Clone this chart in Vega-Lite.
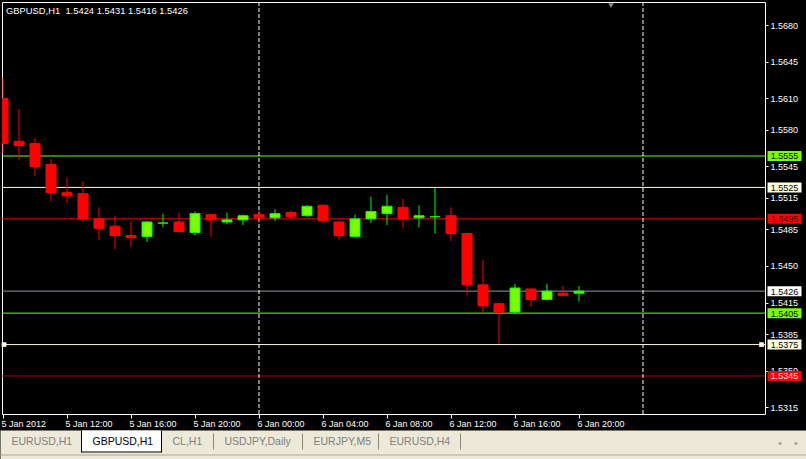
{
  "$schema": "https://vega.github.io/schema/vega-lite/v6.json",
  "background": "#000000",
  "padding": {"left": 0, "top": 1, "right": 0, "bottom": 0},
  "spacing": 16.5,
  "bounds": "flush",
  "resolve": {"scale": {"x": "independent", "y": "independent"}},
  "config": {"view": {"stroke": null}, "font": "Liberation Sans", "axis": {"labelOverlap": false}, "scale": {"continuousPadding": 0}},
  "datasets": {
    "candles": [
      {"t": "2012-01-05T08:00:00Z", "open": 1.5610, "high": 1.5630, "low": 1.5557, "close": 1.5567},
      {"t": "2012-01-05T09:00:00Z", "open": 1.5569, "high": 1.5600, "low": 1.5551, "close": 1.5565},
      {"t": "2012-01-05T10:00:00Z", "open": 1.5567, "high": 1.5572, "low": 1.5536, "close": 1.5545},
      {"t": "2012-01-05T11:00:00Z", "open": 1.5547, "high": 1.5552, "low": 1.5512, "close": 1.5520},
      {"t": "2012-01-05T12:00:00Z", "open": 1.5520, "high": 1.5534, "low": 1.5510, "close": 1.5517},
      {"t": "2012-01-05T13:00:00Z", "open": 1.5519, "high": 1.5531, "low": 1.5492, "close": 1.5495},
      {"t": "2012-01-05T14:00:00Z", "open": 1.5495, "high": 1.5506, "low": 1.5475, "close": 1.5486},
      {"t": "2012-01-05T15:00:00Z", "open": 1.5488, "high": 1.5498, "low": 1.5466, "close": 1.5479},
      {"t": "2012-01-05T16:00:00Z", "open": 1.5479, "high": 1.5493, "low": 1.5468, "close": 1.5477},
      {"t": "2012-01-05T17:00:00Z", "open": 1.5478, "high": 1.5493, "low": 1.5473, "close": 1.5492},
      {"t": "2012-01-05T18:00:00Z", "open": 1.5491, "high": 1.5500, "low": 1.5487, "close": 1.5491},
      {"t": "2012-01-05T19:00:00Z", "open": 1.5492, "high": 1.5501, "low": 1.5482, "close": 1.5483},
      {"t": "2012-01-05T20:00:00Z", "open": 1.5482, "high": 1.5502, "low": 1.5479, "close": 1.5500},
      {"t": "2012-01-05T21:00:00Z", "open": 1.5499, "high": 1.5500, "low": 1.5478, "close": 1.5494},
      {"t": "2012-01-05T22:00:00Z", "open": 1.5492, "high": 1.5501, "low": 1.5490, "close": 1.5494},
      {"t": "2012-01-05T23:00:00Z", "open": 1.5494, "high": 1.5499, "low": 1.5489, "close": 1.5498},
      {"t": "2012-01-06T00:00:00Z", "open": 1.5499, "high": 1.5504, "low": 1.5493, "close": 1.5496},
      {"t": "2012-01-06T01:00:00Z", "open": 1.5496, "high": 1.5504, "low": 1.5493, "close": 1.5500},
      {"t": "2012-01-06T02:00:00Z", "open": 1.5501, "high": 1.5503, "low": 1.5495, "close": 1.5497},
      {"t": "2012-01-06T03:00:00Z", "open": 1.5498, "high": 1.5508, "low": 1.5497, "close": 1.5507},
      {"t": "2012-01-06T04:00:00Z", "open": 1.5508, "high": 1.5508, "low": 1.5491, "close": 1.5493},
      {"t": "2012-01-06T05:00:00Z", "open": 1.5492, "high": 1.5493, "low": 1.5475, "close": 1.5479},
      {"t": "2012-01-06T06:00:00Z", "open": 1.5478, "high": 1.5499, "low": 1.5478, "close": 1.5495},
      {"t": "2012-01-06T07:00:00Z", "open": 1.5495, "high": 1.5516, "low": 1.5491, "close": 1.5502},
      {"t": "2012-01-06T08:00:00Z", "open": 1.5500, "high": 1.5518, "low": 1.5489, "close": 1.5507},
      {"t": "2012-01-06T09:00:00Z", "open": 1.5506, "high": 1.5514, "low": 1.5486, "close": 1.5495},
      {"t": "2012-01-06T10:00:00Z", "open": 1.5496, "high": 1.5508, "low": 1.5487, "close": 1.5498},
      {"t": "2012-01-06T11:00:00Z", "open": 1.5497, "high": 1.5525, "low": 1.5481, "close": 1.5497},
      {"t": "2012-01-06T12:00:00Z", "open": 1.5498, "high": 1.5506, "low": 1.5474, "close": 1.5481},
      {"t": "2012-01-06T13:00:00Z", "open": 1.5481, "high": 1.5482, "low": 1.5422, "close": 1.5432},
      {"t": "2012-01-06T14:00:00Z", "open": 1.5432, "high": 1.5456, "low": 1.5406, "close": 1.5412},
      {"t": "2012-01-06T15:00:00Z", "open": 1.5414, "high": 1.5414, "low": 1.5376, "close": 1.5406},
      {"t": "2012-01-06T16:00:00Z", "open": 1.5406, "high": 1.5433, "low": 1.5404, "close": 1.5429},
      {"t": "2012-01-06T17:00:00Z", "open": 1.5428, "high": 1.5429, "low": 1.5411, "close": 1.5418},
      {"t": "2012-01-06T18:00:00Z", "open": 1.5418, "high": 1.5433, "low": 1.5417, "close": 1.5426},
      {"t": "2012-01-06T19:00:00Z", "open": 1.5424, "high": 1.5431, "low": 1.5421, "close": 1.5422},
      {"t": "2012-01-06T20:00:00Z", "open": 1.5424, "high": 1.5431, "low": 1.5416, "close": 1.5426}
    ],
    "levels": [
      {"price": 1.5555, "kind": "lime"},
      {"price": 1.5525, "kind": "cream"},
      {"price": 1.5495, "kind": "red"},
      {"price": 1.5426, "kind": "bid"},
      {"price": 1.5405, "kind": "lime"},
      {"price": 1.5375, "kind": "cream"},
      {"price": 1.5345, "kind": "maroon"}
    ],
    "daySeparators": [
      {"t": "2012-01-06T00:00:00Z"},
      {"t": "2012-01-07T00:00:00Z"}
    ],
    "tabs": [
      {"name": "EURUSD,H1", "x0": 0, "x1": 81, "active": false},
      {"name": "GBPUSD,H1", "x0": 81, "x1": 161, "active": true},
      {"name": "CL,H1", "x0": 161, "x1": 213, "active": false},
      {"name": "USDJPY,Daily", "x0": 213, "x1": 302, "active": false},
      {"name": "EURJPY,M5", "x0": 302, "x1": 378, "active": false},
      {"name": "EURUSD,H4", "x0": 378, "x1": 460, "active": false}
    ]
  },
  "vconcat": [
    {
      "width": 763,
      "height": 412,
      "view": {"stroke": "#FFFFFF", "strokeWidth": 1, "fill": "#000000"},
      "layer": [
        {
          "data": {"name": "levels"},
          "mark": {"type": "rule", "strokeWidth": 1},
          "encoding": {
            "y": {
              "field": "price", "type": "quantitative",
              "scale": {"domain": [1.530872, 1.5702], "nice": false, "zero": false, "padding": 0},
              "axis": {
                "orient": "right", "title": null, "grid": false, "domain": false,
                "values": [1.5680, 1.5645, 1.5610, 1.5580, 1.5545, 1.5515, 1.5485, 1.5450, 1.5415, 1.5385, 1.5350, 1.5315],
                "tickCount": 40,
                "format": ".4f", "tickSize": 3, "tickColor": "#FFFFFF", "labelColor": "#FFFFFF",
                "labelFont": "Liberation Sans", "labelFontSize": 9, "labelPadding": 2,
                "labelOverlap": false, "labelFlush": false, "labelBound": false
              }
            },
            "stroke": {
              "field": "kind", "type": "nominal", "legend": null,
              "scale": {"domain": ["lime", "cream", "red", "bid", "maroon"], "range": ["#7CFC00", "#FFF8DC", "#FF0000", "#8E96A0", "#B40000"]}
            }
          }
        },
        {
          "data": {"name": "daySeparators"},
          "mark": {"type": "rule", "stroke": "#FFFFFF", "strokeWidth": 1, "strokeDash": [4, 2]},
          "encoding": {
            "x": {
              "field": "t", "type": "temporal",
              "scale": {"type": "utc", "domain": [
                {"year": 2012, "month": 1, "date": 5, "hours": 7, "minutes": 56, "seconds": 15, "utc": true},
                {"year": 2012, "month": 1, "date": 7, "hours": 7, "minutes": 37, "seconds": 30, "utc": true}
              ], "nice": false, "padding": 0},
              "axis": {
                "orient": "bottom", "title": null, "grid": false, "domain": false,
                "values": [
                  {"year": 2012, "month": 1, "date": 5, "hours": 8, "utc": true},
                  {"year": 2012, "month": 1, "date": 5, "hours": 12, "utc": true},
                  {"year": 2012, "month": 1, "date": 5, "hours": 16, "utc": true},
                  {"year": 2012, "month": 1, "date": 5, "hours": 20, "utc": true},
                  {"year": 2012, "month": 1, "date": 6, "hours": 0, "utc": true},
                  {"year": 2012, "month": 1, "date": 6, "hours": 4, "utc": true},
                  {"year": 2012, "month": 1, "date": 6, "hours": 8, "utc": true},
                  {"year": 2012, "month": 1, "date": 6, "hours": 12, "utc": true},
                  {"year": 2012, "month": 1, "date": 6, "hours": 16, "utc": true},
                  {"year": 2012, "month": 1, "date": 6, "hours": 20, "utc": true}
                ],
                "tickCount": 40,
                "labelExpr": "time(datum.value) < 1325751000000 ? '5 Jan 2012' : utcFormat(datum.value, '%-d %b %H:%M')",
                "tickSize": 4, "tickColor": "#FFFFFF", "labelColor": "#FFFFFF",
                "labelFont": "Liberation Sans", "labelFontSize": 9, "labelAlign": "left", "labelBaseline": "top",
                "labelOffset": -2, "labelPadding": 1,
                "labelOverlap": false, "labelFlush": false, "labelBound": false
              }
            }
          }
        },
        {
          "data": {"name": "candles"},
          "mark": {"type": "rule", "strokeWidth": 1, "clip": true},
          "encoding": {
            "x": {"field": "t", "type": "temporal"},
            "y": {"field": "low", "type": "quantitative"},
            "y2": {"field": "high"},
            "stroke": {"condition": {"test": "datum.close >= datum.open", "value": "#00FF00"}, "value": "#FF0000"}
          }
        },
        {
          "data": {"name": "candles"},
          "mark": {"type": "bar", "width": 10, "strokeWidth": 1, "clip": true},
          "encoding": {
            "x": {"field": "t", "type": "temporal"},
            "y": {"field": "open", "type": "quantitative"},
            "y2": {"field": "close"},
            "fill": {"condition": {"test": "datum.close >= datum.open", "value": "#7CFC00"}, "value": "#FF0000"},
            "stroke": {"condition": {"test": "datum.close >= datum.open", "value": "#00FF00"}, "value": "#FF0000"}
          }
        },
        {
          "data": {"values": [{"label": "GBPUSD,H1\u00a0 1.5424 1.5431 1.5416 1.5426"}]},
          "mark": {"type": "text", "align": "left", "baseline": "alphabetic", "dx": 4, "dy": 12, "fontSize": 9.4, "color": "#FFFFFF"},
          "encoding": {
            "x": {"datum": {"year": 2012, "month": 1, "date": 5, "hours": 7, "minutes": 56, "seconds": 15, "utc": true}, "type": "temporal"},
            "y": {"datum": 1.5702, "type": "quantitative"},
            "text": {"field": "label"}
          }
        },
        {
          "data": {"values": [{"t": "2012-01-06T22:00:00Z", "price": 1.56985}]},
          "mark": {"type": "point", "shape": "triangle-down", "size": 30, "filled": true, "opacity": 1, "color": "#8A8A8A"},
          "encoding": {
            "x": {"field": "t", "type": "temporal"},
            "y": {"field": "price", "type": "quantitative"}
          }
        },
        {
          "data": {"values": [{"t": "2012-01-05T08:03:45Z", "price": 1.5375}, {"t": "2012-01-07T07:24:22Z", "price": 1.5375}]},
          "mark": {"type": "point", "shape": "square", "size": 22, "filled": true, "opacity": 1, "color": "#FFF8DC"},
          "encoding": {
            "x": {"field": "t", "type": "temporal"},
            "y": {"field": "price", "type": "quantitative"}
          }
        },
        {
          "data": {"name": "levels"},
          "mark": {"type": "tick", "orient": "horizontal", "size": 34, "thickness": 10, "xOffset": 19.5, "opacity": 1},
          "encoding": {
            "x": {"datum": {"year": 2012, "month": 1, "date": 7, "hours": 7, "minutes": 37, "seconds": 30, "utc": true}, "type": "temporal"},
            "y": {"field": "price", "type": "quantitative"},
            "fill": {
              "field": "kind", "type": "nominal", "legend": null,
              "scale": {"domain": ["lime", "cream", "red", "bid", "maroon"], "range": ["#7CFC00", "#FFFFE0", "#FF0000", "#FFFFFF", "#FF0000"]}
            }
          }
        },
        {
          "data": {"name": "levels"},
          "mark": {"type": "text", "align": "center", "baseline": "middle", "dx": 19.5, "dy": 0.5, "fontSize": 9},
          "encoding": {
            "x": {"datum": {"year": 2012, "month": 1, "date": 7, "hours": 7, "minutes": 37, "seconds": 30, "utc": true}, "type": "temporal"},
            "y": {"field": "price", "type": "quantitative"},
            "text": {"field": "price", "type": "quantitative", "format": ".4f"},
            "color": {
              "field": "kind", "type": "nominal", "legend": null,
              "scale": {"domain": ["lime", "cream", "red", "bid", "maroon"], "range": ["#000000", "#000000", "#3A0000", "#000000", "#FFE8E8"]}
            }
          }
        }
      ]
    },
    {
      "width": 804.5,
      "height": 29,
      "view": {"stroke": null},
      "layer": [
        {
          "data": {"values": [{}]},
          "mark": {"type": "rect", "fill": "#ECE9D8"},
          "encoding": {
            "x": {"datum": 0, "type": "quantitative", "scale": {"domain": [1.5, 806], "nice": false, "zero": false, "padding": 0}, "axis": null},
            "x2": {"datum": 806},
            "y": {"datum": 430, "type": "quantitative", "scale": {"domain": [430, 459], "nice": false, "zero": false, "reverse": true, "padding": 0}, "axis": null},
            "y2": {"datum": 459}
          }
        },
        {
          "data": {"values": [{}]},
          "mark": {"type": "rule", "stroke": "#ACA899", "strokeWidth": 1},
          "encoding": {
            "x": {"datum": 0, "type": "quantitative"},
            "x2": {"datum": 806},
            "y": {"datum": 454.5, "type": "quantitative"}
          }
        },
        {
          "data": {"name": "tabs"},
          "transform": [{"filter": "datum.active"}],
          "mark": {"type": "rect", "fill": "#FFFFFF"},
          "encoding": {
            "x": {"field": "x0", "type": "quantitative"},
            "x2": {"field": "x1"},
            "y": {"datum": 430, "type": "quantitative"},
            "y2": {"datum": 451.5}
          }
        },
        {
          "data": {"name": "tabs"},
          "transform": [{"filter": "datum.active"}],
          "mark": {"type": "rule", "stroke": "#000000", "strokeWidth": 1},
          "encoding": {
            "x": {"field": "x0", "type": "quantitative"},
            "x2": {"field": "x1"},
            "y": {"datum": 451.5, "type": "quantitative"}
          }
        },
        {
          "data": {"name": "tabs"},
          "transform": [{"filter": "datum.active"}],
          "mark": {"type": "rule", "stroke": "#000000", "strokeWidth": 1},
          "encoding": {
            "x": {"field": "x0", "type": "quantitative"},
            "y": {"datum": 430, "type": "quantitative"},
            "y2": {"datum": 452}
          }
        },
        {
          "data": {"name": "tabs"},
          "transform": [{"filter": "datum.active"}],
          "mark": {"type": "rule", "stroke": "#000000", "strokeWidth": 1},
          "encoding": {
            "x": {"field": "x1", "type": "quantitative"},
            "y": {"datum": 430, "type": "quantitative"},
            "y2": {"datum": 452}
          }
        },
        {
          "data": {"name": "tabs"},
          "transform": [{"filter": "!datum.active && datum.name != 'EURUSD,H1'"}],
          "mark": {"type": "rule", "stroke": "#8A8678", "strokeWidth": 1},
          "encoding": {
            "x": {"field": "x1", "type": "quantitative"},
            "y": {"datum": 433, "type": "quantitative"},
            "y2": {"datum": 449}
          }
        },
        {
          "data": {"name": "tabs"},
          "mark": {"type": "text", "align": "left", "baseline": "middle", "dx": 11, "fontSize": 10.5},
          "encoding": {
            "x": {"field": "x0", "type": "quantitative"},
            "y": {"datum": 441, "type": "quantitative"},
            "text": {"field": "name"},
            "color": {"condition": {"test": "datum.active", "value": "#000000"}, "value": "#7F7F7F"}
          }
        },
        {
          "data": {"values": [{"pos": 779, "dir": "left"}, {"pos": 796, "dir": "right"}]},
          "mark": {"type": "point", "filled": true, "size": 18, "opacity": 1, "color": "#A0A0A0"},
          "encoding": {
            "x": {"field": "pos", "type": "quantitative"},
            "y": {"datum": 443, "type": "quantitative"},
            "shape": {"field": "dir", "type": "nominal", "legend": null, "scale": {"domain": ["left", "right"], "range": ["triangle-left", "triangle-right"]}}
          }
        }
      ]
    }
  ]
}
